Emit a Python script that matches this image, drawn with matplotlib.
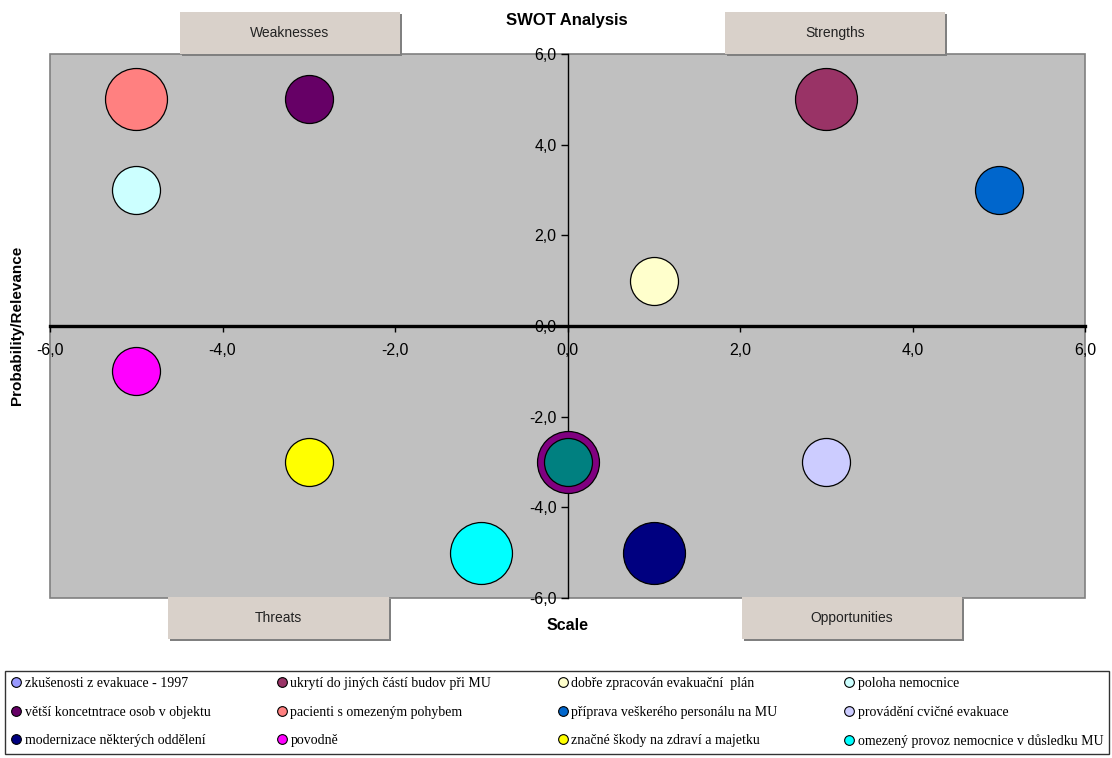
import matplotlib.pyplot as plt
from matplotlib.lines import Line2D
from matplotlib.patches import Rectangle
from matplotlib.ticker import FuncFormatter

# SWOT items: position (scale, probability) and bubble size
labels = ["zkušenosti z evakuace - 1997", "ukrytí do jiných částí budov při MU",
          "dobře zpracován evakuační  plán", "poloha nemocnice",
          "větší koncetntrace osob v objektu", "pacienti s omezeným pohybem",
          "příprava veškerého personálu na MU", "provádění cvičné evakuace",
          "modernizace některých oddělení", "povodně",
          "značné škody na zdraví a majetku", "omezený provoz nemocnice v důsledku MU"]
x_vals = [0, 3, 1, -5, -3, -5, 5, 3, 1, -5, -3, -1]
y_vals = [-3, 5, 1, 3, 5, 5, 3, -3, -5, -1, -3, -5]
sizes = [3, 5, 3, 3, 3, 5, 3, 3, 5, 3, 3, 5]
colors = ["#9999FF", "#993366", "#FFFFCC", "#CCFFFF", "#660066", "#FF8080",
          "#0066CC", "#CCCCFF", "#000080", "#FF00FF", "#FFFF00", "#00FFFF"]

# two more series without legend entries, stacked at the origin column
extra_x = [0, 0]
extra_y = [-3, -3]
extra_sizes = [5, 3]
extra_colors = ["#800080", "#008080"]

ticks = [-6, -4, -2, 0, 2, 4, 6]
quadrants = ["Weaknesses", "Strengths", "Threats", "Opportunities"]

SANS = "Liberation Sans"
SERIF = "Liberation Serif"
BUBBLE = 398  # marker area (pt^2) per unit of bubble size

W, H = 1112, 758
fig = plt.figure(figsize=(W / 100, H / 100), dpi=100)
fig.patch.set_facecolor("white")

def fx(px):
    return px / W

def fy(py):
    return 1 - py / H

ax = fig.add_axes([fx(50), fy(598), fx(1085) - fx(50), fy(54) - fy(598)])
ax.set_facecolor("#C0C0C0")
ax.set_xlim(-6, 6)
ax.set_ylim(-6, 6)

# axes cross in the middle of the plot area
ax.spines["left"].set_position(("data", 0))
ax.spines["bottom"].set_position(("data", 0))
ax.spines["left"].set_linewidth(1.0)
ax.spines["bottom"].set_linewidth(2.4)
ax.spines["top"].set_visible(False)
ax.spines["right"].set_visible(False)
ax.add_patch(Rectangle((0, 0), 1, 1, transform=ax.transAxes, fill=False,
                       edgecolor="#808080", lw=1.2, clip_on=False, zorder=1))

fmt = FuncFormatter(lambda v, p: f"{v:.1f}".replace(".", ","))
ax.set_xticks(ticks)
ax.set_yticks(ticks)
ax.xaxis.set_major_formatter(fmt)
ax.yaxis.set_major_formatter(fmt)
ax.tick_params(axis="x", direction="out", length=4, width=1, pad=8,
               labelsize=11.5, colors="black")
ax.tick_params(axis="y", direction="out", length=5, width=1, pad=3,
               labelsize=11.5, colors="black")
for t in ax.get_xticklabels() + ax.get_yticklabels():
    t.set_fontfamily(SANS)

for i in range(len(labels)):
    ax.scatter(x_vals[i], y_vals[i], s=sizes[i] * BUBBLE, c=colors[i],
               edgecolors="black", linewidths=0.9, zorder=3, clip_on=False)
for i in range(len(extra_x)):
    ax.scatter(extra_x[i], extra_y[i], s=extra_sizes[i] * BUBBLE, c=extra_colors[i],
               edgecolors="black", linewidths=0.9, zorder=4, clip_on=False)

# titles
fig.text(fx(567), fy(20), "SWOT Analysis", ha="center", va="center",
         fontsize=12, fontweight="bold", family=SANS)
fig.text(fx(568), fy(625), "Scale", ha="center", va="center",
         fontsize=11.5, fontweight="bold", family=SANS)
fig.text(fx(17), fy(325), "Probability/Relevance", ha="center", va="center",
         rotation=90, fontsize=11, fontweight="bold", family=SANS)

# quadrant name boxes (left, top, right, bottom in px)
boxes = [(180, 12, 400, 54), (725, 12, 945, 54), (168, 597, 389, 639), (742, 597, 962, 639)]
for name, (x0, y0, x1, y1) in zip(quadrants, boxes):
    fig.patches.append(Rectangle((fx(x0 + 2), fy(y1 + 2)), fx(x1) - fx(x0), fy(y0) - fy(y1),
                                 transform=fig.transFigure, facecolor="#808080",
                                 edgecolor="none", zorder=5))
    fig.patches.append(Rectangle((fx(x0), fy(y1)), fx(x1) - fx(x0), fy(y0) - fy(y1),
                                 transform=fig.transFigure, facecolor="#D9D1CA",
                                 edgecolor="none", zorder=6))
    fig.text(fx((x0 + x1) / 2), fy((y0 + y1) / 2), name, ha="center", va="center",
             fontsize=10, family=SANS, color="#222222", zorder=7)

# legend laid out row by row, four columns
handles = [Line2D([], [], marker="o", linestyle="", markersize=7,
                  markerfacecolor=c, markeredgecolor="black", markeredgewidth=0.8)
           for c in colors]
order = [c + 4 * r for c in range(4) for r in range(3)]
leg = fig.legend([handles[i] for i in order], [labels[i] for i in order],
                 loc="upper left", bbox_to_anchor=(fx(5), fy(754), fx(1109) - fx(5), fy(671) - fy(754)),
                 mode="expand", ncol=4, frameon=True, fancybox=False,
                 prop={"family": SERIF, "size": 10}, handlelength=0.8,
                 handletextpad=0.2, labelspacing=1.13, borderpad=0.42,
                 borderaxespad=0, columnspacing=1.0)
leg.get_frame().set_edgecolor("black")
leg.get_frame().set_linewidth(1.0)

fig.savefig("out.png", dpi=100)
